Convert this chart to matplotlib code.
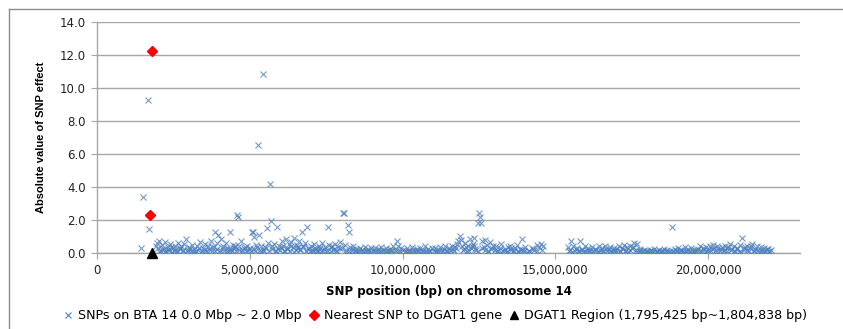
import numpy as np
import matplotlib
matplotlib.use("Agg")
import matplotlib.pyplot as plt
from matplotlib.ticker import FuncFormatter, MultipleLocator
from matplotlib.lines import Line2D

# SNP positions (Mbp) and absolute SNP effects on BTA 14
snp_pos_mb = [
    1.44, 1.50, 1.67, 1.70,
    1.92, 1.96, 2.01, 2.04, 2.09, 2.13, 2.18, 2.22, 2.27, 2.31, 2.36, 2.40, 2.46, 2.50, 2.55, 2.61, 2.66, 2.70, 2.76, 2.81, 2.86, 2.92, 2.97,
    3.02, 3.07, 3.11, 3.16, 3.22, 3.27, 3.31, 3.36, 3.42, 3.47, 3.52, 3.57, 3.62, 3.67, 3.72, 3.77, 3.82, 3.87, 3.91, 3.96,
    4.02, 4.06, 4.11, 4.16, 4.21, 4.26, 4.31, 4.35, 4.40, 4.45, 4.50, 4.55, 4.57, 4.62, 4.66, 4.71, 4.76, 4.81, 4.86, 4.91, 4.96,
    5.02, 5.06, 5.10, 5.13, 5.17, 5.21, 5.26, 5.30, 5.34, 5.38, 5.42, 5.46, 5.50, 5.55, 5.59, 5.65, 5.70, 5.74, 5.79, 5.84, 5.90, 5.95,
    6.00, 6.04, 6.09, 6.13, 6.18, 6.22, 6.27, 6.31, 6.36, 6.41, 6.46, 6.50, 6.55, 6.60, 6.65, 6.70, 6.75, 6.80, 6.86, 6.91, 6.96,
    7.01, 7.06, 7.11, 7.16, 7.21, 7.26, 7.31, 7.36, 7.41, 7.46, 7.51, 7.55, 7.60, 7.65, 7.70, 7.75, 7.80, 7.85, 7.90, 7.95,
    8.00, 8.05, 8.08, 8.12, 8.16, 8.20, 8.23, 8.28, 8.33, 8.38, 8.44, 8.49, 8.55, 8.60, 8.66, 8.71, 8.77, 8.82, 8.88, 8.93, 8.98,
    9.03, 9.08, 9.14, 9.19, 9.25, 9.30, 9.36, 9.41, 9.47, 9.52, 9.58, 9.63, 9.69, 9.74, 9.80, 9.85, 9.91, 9.96,
    10.02, 10.07, 10.13, 10.18, 10.24, 10.29, 10.35, 10.40, 10.46, 10.51, 10.57, 10.62, 10.68, 10.73, 10.79, 10.84, 10.90, 10.95,
    11.01, 11.06, 11.12, 11.17, 11.23, 11.28, 11.34, 11.39, 11.45, 11.50, 11.56, 11.61, 11.67, 11.72, 11.77, 11.82, 11.86, 11.90, 11.95,
    12.00, 12.05, 12.10, 12.15, 12.20, 12.25, 12.30, 12.35, 12.40, 12.45, 12.50, 12.52, 12.55, 12.60, 12.65, 12.70, 12.75, 12.80, 12.86, 12.92, 12.97,
    13.02, 13.07, 13.12, 13.18, 13.23, 13.29, 13.34, 13.40, 13.45, 13.51, 13.56, 13.62, 13.67, 13.73, 13.78, 13.84, 13.90, 13.95,
    14.01, 14.08, 14.15, 14.22, 14.30, 14.38, 14.45, 14.52, 14.58,
    15.42, 15.47, 15.52, 15.58, 15.63, 15.69, 15.75, 15.80, 15.86, 15.91, 15.97, 16.02, 16.08, 16.13, 16.19, 16.24, 16.30, 16.35, 16.41, 16.46,
    16.52, 16.57, 16.63, 16.68, 16.74, 16.79, 16.85, 16.90, 16.96,
    17.01, 17.07, 17.12, 17.18, 17.23, 17.29, 17.34, 17.40, 17.45, 17.51, 17.56, 17.62, 17.67, 17.73, 17.78, 17.84, 17.89, 17.95,
    18.00, 18.06, 18.11, 18.17, 18.22, 18.28, 18.33, 18.39, 18.44, 18.50, 18.55,
    18.61, 18.66, 18.72, 18.80, 18.84, 18.90, 18.95, 19.01, 19.06, 19.12, 19.17, 19.23, 19.28, 19.34, 19.39, 19.45, 19.50, 19.56, 19.61, 19.67,
    19.72, 19.78, 19.83, 19.89, 19.94, 20.00, 20.05, 20.11, 20.16, 20.22, 20.27, 20.33, 20.38, 20.44,
    20.50, 20.55, 20.61, 20.66, 20.72, 20.77, 20.83, 20.88, 20.94, 21.00, 21.05, 21.10, 21.16, 21.21, 21.27, 21.32, 21.38, 21.43, 21.49, 21.54,
    21.60, 21.65, 21.71, 21.76, 21.82, 21.87, 21.93, 21.98, 22.04,
]
snp_effect = [
    0.30, 3.40, 9.30, 1.45,
    0.45, 0.60, 0.30, 0.75, 0.15, 0.50, 0.25, 0.65, 0.10, 0.35, 0.20, 0.55, 0.05, 0.30, 0.45, 0.15, 0.60, 0.25, 0.40, 0.10, 0.55, 0.85, 0.20,
    0.35, 0.10, 0.50, 0.25, 0.05, 0.40, 0.20, 0.65, 0.15, 0.30, 0.55, 0.10, 0.45, 0.25, 0.70, 0.15, 0.35, 1.25, 0.60, 1.10,
    0.20, 0.85, 0.40, 0.15, 0.60, 0.30, 0.10, 1.30, 0.25, 0.50, 0.35, 0.15, 2.30, 2.20, 0.45, 0.70, 0.20, 0.30, 0.10, 0.40, 0.25,
    0.30, 1.30, 1.25, 0.95, 0.15, 0.50, 6.55, 1.10, 0.20, 0.45, 10.85, 0.10, 0.35, 1.50, 0.60, 4.20, 1.95, 0.25, 0.55, 0.15, 1.55, 0.40,
    0.20, 0.70, 0.45, 0.10, 0.85, 0.30, 0.55, 0.15, 0.65, 0.35, 0.90, 0.20, 0.50, 0.75, 0.25, 1.30, 0.45, 0.60, 1.55, 0.30, 0.10,
    0.40, 0.15, 0.55, 0.25, 0.05, 0.45, 0.30, 0.60, 0.10, 0.35, 0.20, 1.60, 0.50, 0.15, 0.40, 0.25, 0.55, 0.10, 0.35, 0.65,
    0.30, 2.45, 2.40, 0.50, 0.20, 1.70, 1.30, 0.35, 0.10, 0.40, 0.15, 0.25, 0.05, 0.30, 0.20, 0.10, 0.35, 0.15, 0.25, 0.05, 0.30,
    0.15, 0.30, 0.05, 0.25, 0.10, 0.35, 0.20, 0.05, 0.30, 0.15, 0.25, 0.10, 0.40, 0.20, 0.70, 0.45, 0.15, 0.30,
    0.20, 0.05, 0.30, 0.15, 0.10, 0.35, 0.20, 0.05, 0.25, 0.15, 0.30, 0.10, 0.20, 0.40, 0.05, 0.25, 0.15, 0.30,
    0.10, 0.30, 0.20, 0.05, 0.35, 0.15, 0.25, 0.40, 0.10, 0.30, 0.20, 0.45, 0.15, 0.35, 0.55, 0.70, 1.05, 0.80, 0.40,
    0.25, 0.60, 0.15, 0.45, 0.85, 0.30, 0.55, 0.90, 0.20, 1.80, 2.40, 2.20, 1.80, 0.70, 0.35, 0.80, 0.50, 0.15, 0.65, 0.30, 0.45,
    0.20, 0.40, 0.10, 0.30, 0.55, 0.15, 0.25, 0.05, 0.35, 0.45, 0.20, 0.10, 0.30, 0.50, 0.15, 0.25, 0.85, 0.20,
    0.35, 0.05, 0.10, 0.30, 0.20, 0.50, 0.35, 0.55, 0.40,
    0.35, 0.20, 0.70, 0.45, 0.10, 0.30, 0.15, 0.70, 0.25, 0.05, 0.40, 0.20, 0.30, 0.10, 0.35, 0.15, 0.25, 0.05, 0.40, 0.20,
    0.30, 0.10, 0.45, 0.15, 0.25, 0.35, 0.05, 0.30, 0.20,
    0.25, 0.40, 0.10, 0.30, 0.50, 0.15, 0.35, 0.05, 0.45, 0.30, 0.60, 0.20, 0.55, 0.10, 0.25, 0.05, 0.20, 0.10,
    0.15, 0.05, 0.20, 0.10, 0.25, 0.05, 0.15, 0.20, 0.10, 0.05, 0.25,
    0.10, 0.20, 0.05, 1.60, 0.15, 0.25, 0.10, 0.30, 0.05, 0.20, 0.15, 0.35, 0.10, 0.25, 0.05, 0.30, 0.15, 0.20, 0.10, 0.25,
    0.40, 0.15, 0.30, 0.05, 0.35, 0.20, 0.45, 0.25, 0.50, 0.15, 0.40, 0.30, 0.10, 0.35,
    0.20, 0.45, 0.10, 0.35, 0.55, 0.25, 0.40, 0.15, 0.30, 0.05, 0.50, 0.90, 0.20, 0.35, 0.45, 0.10, 0.30, 0.55, 0.15, 0.25,
    0.40, 0.05, 0.35, 0.20, 0.30, 0.10, 0.25, 0.15, 0.20,
]

# further SNPs with small effects filling the lower band
snp_pos_mb_low = [
    2.03, 2.12, 2.24, 2.33, 2.43, 2.52, 2.63, 2.73, 2.83, 2.94,
    3.04, 3.14, 3.24, 3.34, 3.45, 3.54, 3.64, 3.75, 3.85, 3.94,
    4.04, 4.13, 4.24, 4.33, 4.43, 4.53, 4.64, 4.73, 4.84, 4.93,
    5.04, 5.15, 5.24, 5.33, 5.44, 5.53, 5.63, 5.73, 5.83, 5.93,
    6.03, 6.14, 6.23, 6.34, 6.43, 6.53, 6.63, 6.73, 6.84, 6.94,
    7.04, 7.13, 7.24, 7.34, 7.43, 7.53, 7.64, 7.73, 7.83, 7.94,
    8.14, 8.25, 8.36, 8.47, 8.58, 8.69, 8.80, 8.91, 9.11, 9.22,
    9.33, 9.44, 9.55, 9.66, 9.77, 9.88, 10.10, 10.21, 10.32, 10.43,
    10.54, 10.65, 10.76, 10.87, 11.09, 11.20, 11.31, 11.42, 11.53, 11.64,
    11.75, 11.98, 12.08, 12.18, 12.28, 12.38, 12.48, 12.58, 12.68, 12.78,
    12.89, 13.09, 13.21, 13.32, 13.43, 13.54, 13.65, 13.76, 13.87, 13.98,
    14.12, 14.26, 14.41, 14.55, 15.45, 15.55, 15.66, 15.77, 15.88, 16.00,
    16.11, 16.22, 16.33, 16.44, 16.55, 16.66, 16.77, 16.88, 16.99, 17.10,
    17.21, 17.32, 17.43, 17.54, 17.65, 17.76, 17.87, 17.98, 18.09, 18.20,
    18.31, 18.42, 18.53, 18.64, 18.75, 18.86, 18.97, 19.08, 19.19, 19.30,
    19.41, 19.52, 19.63, 19.74, 19.85, 19.96, 20.07, 20.18, 20.29, 20.40,
    20.51, 20.62, 20.73, 20.84, 20.95, 21.06, 21.17, 21.28, 21.39, 21.50,
    21.61, 21.72, 21.83, 21.94, 22.00, 2.58, 4.48, 6.58, 7.19, 12.33,
]
snp_effect_low = [
    0.10, 0.25, 0.05, 0.20, 0.35, 0.15, 0.05, 0.30, 0.20, 0.10,
    0.25, 0.05, 0.15, 0.30, 0.10, 0.20, 0.05, 0.35, 0.15, 0.25,
    0.05, 0.30, 0.15, 0.25, 0.10, 0.40, 0.20, 0.05, 0.35, 0.15,
    0.10, 0.25, 0.35, 0.05, 0.20, 0.30, 0.15, 0.40, 0.10, 0.25,
    0.35, 0.15, 0.25, 0.40, 0.05, 0.30, 0.20, 0.35, 0.10, 0.25,
    0.20, 0.30, 0.10, 0.15, 0.25, 0.05, 0.35, 0.20, 0.10, 0.30,
    0.05, 0.15, 0.25, 0.10, 0.20, 0.05, 0.15, 0.10, 0.20, 0.05,
    0.15, 0.10, 0.05, 0.20, 0.10, 0.05, 0.15, 0.10, 0.05, 0.20,
    0.10, 0.05, 0.15, 0.10, 0.05, 0.20, 0.10, 0.15, 0.05, 0.25,
    0.30, 0.20, 0.35, 0.10, 0.40, 0.25, 0.15, 0.30, 0.20, 0.10,
    0.25, 0.15, 0.05, 0.20, 0.10, 0.30, 0.15, 0.05, 0.20, 0.10,
    0.15, 0.25, 0.10, 0.20, 0.15, 0.05, 0.25, 0.10, 0.20, 0.05,
    0.15, 0.10, 0.20, 0.05, 0.15, 0.25, 0.10, 0.20, 0.05, 0.15,
    0.25, 0.10, 0.20, 0.35, 0.05, 0.15, 0.10, 0.05, 0.10, 0.05,
    0.15, 0.05, 0.10, 0.05, 0.15, 0.05, 0.10, 0.20, 0.05, 0.15,
    0.10, 0.05, 0.20, 0.15, 0.25, 0.10, 0.20, 0.30, 0.15, 0.25,
    0.10, 0.30, 0.20, 0.15, 0.25, 0.05, 0.30, 0.20, 0.40, 0.10,
    0.20, 0.15, 0.10, 0.25, 0.05, 0.25, 0.30, 0.35, 0.20, 0.45,
]

# SNPs nearest to the DGAT1 gene
nearest_pos_bp = [1801116, 1730000]
nearest_effect = [12.25, 2.30]

# DGAT1 region midpoint
dgat1_pos_bp = [1800131]
dgat1_effect = [0.0]

y_ticks = [0, 2, 4, 6, 8, 10, 12, 14]

snp_label = "SNPs on BTA 14 0.0 Mbp ~ 2.0 Mbp"
nearest_label = "Nearest SNP to DGAT1 gene"
dgat1_label = "DGAT1 Region (1,795,425 bp~1,804,838 bp)"

blue = "#4F81BD"
grid_gray = "#A6A6A6"

fig = plt.figure(figsize=(8.43, 3.29), dpi=100)
ax = fig.add_axes([97 / 843, 1 - 253 / 329, (800 - 97) / 843, (253 - 22) / 329])

snp_x = np.array(snp_pos_mb + snp_pos_mb_low) * 1e6
snp_y = snp_effect + snp_effect_low
ax.plot(snp_x, snp_y, linestyle="none", marker="x", color=blue,
        markersize=5, markeredgewidth=0.8, alpha=0.8, zorder=3)
ax.plot(nearest_pos_bp, nearest_effect, linestyle="none", marker="D",
        color="#FF0000", markersize=5, zorder=4)
ax.plot(dgat1_pos_bp, dgat1_effect, linestyle="none", marker="^",
        color="black", markersize=7, zorder=5, clip_on=False)

ax.set_xlim(0, 23_000_000)
ax.set_ylim(0, 14)
ax.xaxis.set_major_locator(MultipleLocator(5_000_000))
ax.set_yticks(y_ticks)
ax.xaxis.set_major_formatter(FuncFormatter(lambda v, p: f"{v:,.0f}"))
ax.yaxis.set_major_formatter(FuncFormatter(lambda v, p: f"{v:.1f}"))

ax.grid(axis="y", color=grid_gray, linewidth=1.0)
ax.set_axisbelow(True)
for side in ("top", "right"):
    ax.spines[side].set_visible(False)
for side in ("left", "bottom"):
    ax.spines[side].set_color(grid_gray)
    ax.spines[side].set_linewidth(1.0)
ax.tick_params(axis="both", length=4, color=grid_gray, labelsize=8.5,
               labelcolor="#222222", pad=4)

ax.set_xlabel("SNP position (bp) on chromosome 14", fontsize=8.5,
              fontweight="bold", labelpad=6)
ax.set_ylabel("Absolute value of SNP effect", fontsize=8, fontweight="bold",
              family=["Liberation Sans Narrow", "Liberation Sans", "DejaVu Sans"],
              labelpad=10)

handles = [
    Line2D([], [], linestyle="none", marker="x", color=blue, markersize=5, markeredgewidth=0.8),
    Line2D([], [], linestyle="none", marker="D", color="#FF0000", markersize=5),
    Line2D([], [], linestyle="none", marker="^", color="black", markersize=6),
]
fig.legend(handles, [snp_label, nearest_label, dgat1_label], ncol=3,
           loc="center", bbox_to_anchor=(0.516, 1 - 316 / 329), frameon=False,
           fontsize=9.1, handlelength=0.8, handletextpad=0.4, columnspacing=0.55)

# chart frame
fig.add_artist(Line2D([9 / 843, 9 / 843], [0, 1 - 9 / 329], color="#8C8C8C", linewidth=1.0))
fig.add_artist(Line2D([9 / 843, 1], [1 - 9 / 329, 1 - 9 / 329], color="#8C8C8C", linewidth=1.0))

fig.savefig("out.png", dpi=100)
